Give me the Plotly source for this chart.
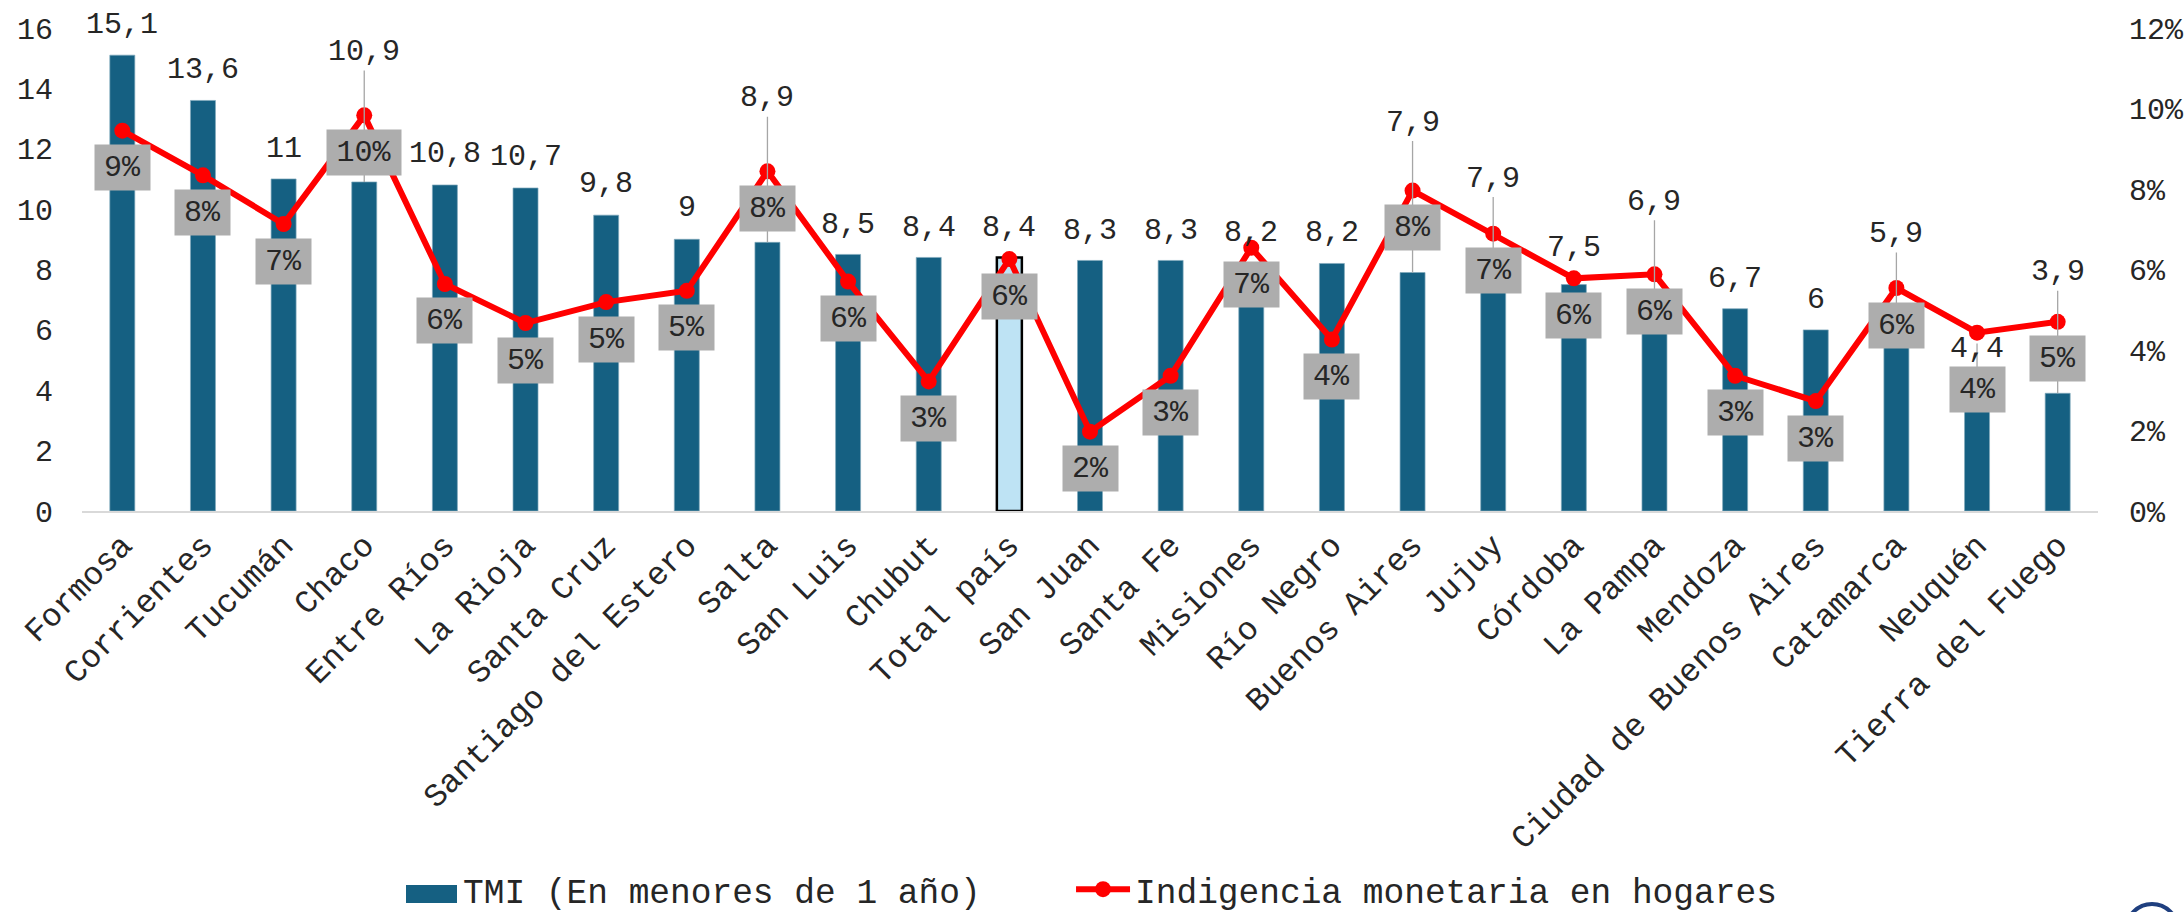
import plotly.graph_objects as go

categories = ["Formosa", "Corrientes", "Tucumán", "Chaco", "Entre Ríos", "La Rioja", "Santa Cruz",
              "Santiago del Estero", "Salta", "San Luis", "Chubut", "Total país", "San Juan", "Santa Fe",
              "Misiones", "Río Negro", "Buenos Aires", "Jujuy", "Córdoba", "La Pampa", "Mendoza",
              "Ciudad de Buenos Aires", "Catamarca", "Neuquén", "Tierra del Fuego"]
tmi = [15.1, 13.6, 11, 10.9, 10.8, 10.7, 9.8, 9, 8.9, 8.5, 8.4, 8.4, 8.3, 8.3, 8.2, 8.2, 7.9, 7.9, 7.5,
       6.9, 6.7, 6, 5.9, 4.4, 3.9]
indigencia = [9.45, 8.34, 7.13, 9.83, 5.64, 4.67, 5.19, 5.47, 8.44, 5.7, 3.22, 6.26, 1.97, 3.36, 6.54,
              4.26, 7.96, 6.89, 5.78, 5.88, 3.36, 2.73, 5.54, 4.43, 4.7]
# label offsets in pixels above the bar top; larger ones carry a leader line
tmi_label_offset = [30, 30, 30, 130, 31, 31, 31, 31, 144, 29, 29, 29, 29, 29, 30, 30, 150, 94, 37,
                    101, 30, 30, 99, 29, 121]
pct_box_offset = [37] * 25
pct_box_offset[23] = 57

MONO = "Liberation Mono"
INK = "#262626"
BLUE = "#156082"
W, H = 2184, 912
L, R, T, B = 82, 86, 28, 401
PW, PH = W - L - R, H - T - B


def px(x):
    return (x - L) / PW


def py(y):
    return (H - B - y) / PH


bar_colors = ["#BEE3F4" if c == "Total país" else BLUE for c in categories]
bar_lines = ["#000000" if c == "Total país" else "#7FA9BC" for c in categories]
bar_line_w = [2.5 if c == "Total país" else 0.7 for c in categories]

fig = go.Figure()
fig.add_bar(x=categories, y=tmi, name="TMI (En menores de 1 año)", width=0.31, showlegend=False,
            legendgroup="tmi",
            marker=dict(color=bar_colors, line=dict(color=bar_lines, width=bar_line_w)))
# legend entry only: the wide swatch beside it is a shape, as the legend's own swatch is fixed in size
fig.add_bar(x=[None], y=[None], name="TMI (En menores de 1 año)", legendgroup="tmi",
            marker=dict(color="rgba(21,96,130,0)", line=dict(width=0)))
fig.add_scatter(x=categories, y=indigencia, yaxis="y2", mode="lines+markers", legend="legend2",
                name="Indigencia monetaria en hogares",
                line=dict(color="#FF0000", width=6), marker=dict(color="#FF0000", size=16))

ann = []
for c, v, off in zip(categories, tmi, tmi_label_offset):
    text = f"{v:g}".replace(".", ",")
    if off > 40:
        ann.append(dict(x=c, y=v, xref="x", yref="y", text=text, showarrow=True, ax=0, ay=-off,
                        arrowhead=0, arrowwidth=1.3, arrowcolor="#A6A6A6", standoff=0,
                        font=dict(family=MONO, size=30, color=INK)))
    else:
        ann.append(dict(x=c, y=v, xref="x", yref="y", text=text, showarrow=False, yshift=off,
                        font=dict(family=MONO, size=30, color=INK)))
for c, p, off in zip(categories, indigencia, pct_box_offset):
    text = f"{round(p)}%"
    ann.append(dict(x=c, y=p, xref="x", yref="y2", text=text, showarrow=False, yshift=-off,
                    width=72 if len(text) > 2 else 53, height=43, bgcolor="#ADADAD", valign="middle",
                    font=dict(family=MONO, size=30, color=INK)))

shapes = [
    # large legend swatch for the bars
    dict(type="rect", xref="paper", yref="paper", x0=px(406), x1=px(457), y0=py(903), y1=py(885),
         fillcolor=BLUE, line=dict(width=0)),
    # leader of the Neuquén label
    dict(type="line", xref="x", yref="y", x0="Neuquén", x1="Neuquén", y0=4.4, y1=5.55,
         line=dict(color="#A6A6A6", width=1.3)),
    # logo partly cut by the page edge
    dict(type="circle", xref="paper", yref="paper", x0=px(2126), x1=px(2178), y0=py(956), y1=py(904),
         fillcolor="white", line=dict(color="#1F3F7F", width=4)),
]

legend_common = dict(orientation="h", xref="container", yref="container", xanchor="left",
                     y=0.025, yanchor="middle", font=dict(family=MONO, size=34.5, color=INK),
                     bgcolor="rgba(0,0,0,0)", itemwidth=54)

fig.update_layout(
    width=W, height=H, paper_bgcolor="white", plot_bgcolor="white",
    margin=dict(l=L, r=R, t=T, b=B, pad=0), barmode="overlay",
    font=dict(family=MONO, size=30, color=INK),
    xaxis=dict(range=[-0.5, 24.5], tickangle=-45, showgrid=False, ticks="", showline=True,
               linecolor="#D9D9D9", linewidth=2,
               tickfont=dict(family=MONO, size=32.5, color=INK), automargin=False),
    yaxis=dict(range=[0, 16], dtick=2, showgrid=False, zeroline=False, ticks="", ticklabelstandoff=28,
               tickfont=dict(family=MONO, size=30, color=INK), automargin=False),
    yaxis2=dict(range=[0, 12], dtick=2, overlaying="y", side="right", showgrid=False, zeroline=False,
                ticks="", ticksuffix="%", ticklabelstandoff=30,
                tickfont=dict(family=MONO, size=30, color=INK), automargin=False),
    showlegend=True,
    legend=dict(x=0.1827, **legend_common),
    legend2=dict(x=0.4904, **legend_common),
    annotations=ann,
    shapes=shapes,
)
fig.write_html("out.html", post_script="document.body.style.margin='0';",
               config={"displayModeBar": False})
